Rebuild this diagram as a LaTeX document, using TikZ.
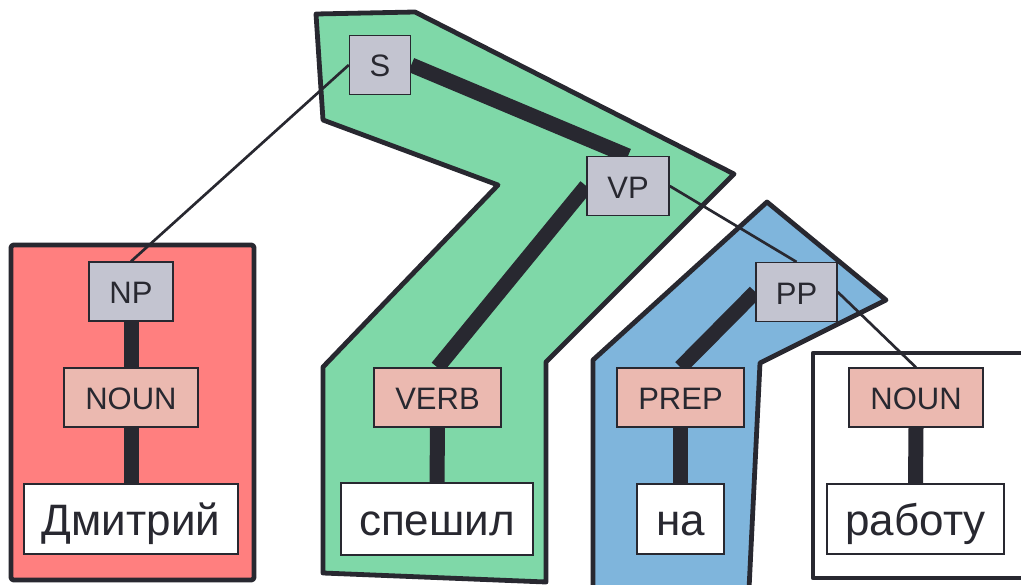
\documentclass[tikz,border=0pt]{standalone}
\usepackage{fontspec}
\setmainfont{Liberation Sans}
\pgfdeclarelayer{polys}
\pgfdeclarelayer{edges}
\pgfsetlayers{polys,edges,main}
\definecolor{ink}{HTML}{282830}
\definecolor{greenfill}{HTML}{7FD8A8}
\definecolor{redfill}{HTML}{FF7F7F}
\definecolor{bluefill}{HTML}{7FB5DC}
\definecolor{phrasefill}{HTML}{C3C4D0}
\definecolor{posfill}{HTML}{EBB9B0}
\tikzset{
  lbl/.style={draw=ink, line width=1.1pt, text=ink, inner sep=0pt,
    minimum height=44pt, text height=18pt, text depth=0pt,
    font=\fontsize{23.25}{26}\selectfont},
  phr/.style={lbl, fill=phrasefill},
  posbox/.style={lbl, fill=posfill},
  word/.style={draw=ink, line width=1.1pt, text=ink, fill=white, inner sep=0pt,
    minimum height=52.5pt, text height=26pt, text depth=2pt,
    font=\fontsize{33}{36}\selectfont},
  thickedge/.style={draw=ink, line width=11.25pt},
  thinedge/.style={draw=ink, line width=2pt},
  poly/.style={draw=ink, line width=3.6pt, line join=round}
}
\begin{document}
\begin{tikzpicture}[x=0.75pt,y=-0.75pt]
\useasboundingbox (0,0) rectangle (1021,585);
% nodes
\node[phr, minimum width=45.75pt] (S) at (380,65) {S};
\node[phr, minimum width=61.5pt] (VP) at (628,186) {VP};
\node[phr, minimum width=63pt] (NP) at (131,291.5) {NP};
\node[phr, minimum width=60.75pt] (PP) at (796.5,292) {PP};
\node[posbox, minimum width=100.5pt] (NOUN1) at (131,397.5) {NOUN};
\node[posbox, minimum width=95.25pt] (VERB) at (437.5,397.5) {VERB};
\node[posbox, minimum width=95.25pt] (PREP) at (680.5,397.5) {PREP};
\node[posbox, minimum width=100.5pt] (NOUN2) at (916,397.5) {NOUN};
\node[word, minimum width=160.5pt] (W1) at (131,519) {Дмитрий};
\node[word, minimum width=144pt, minimum height=54pt] (W2) at (437,519) {спешил};
\node[word, minimum width=65.25pt] (W3) at (680.5,519) {на};
\node[word, minimum width=132.75pt] (W4) at (915.5,519) {работу};
% connectors
\begin{pgfonlayer}{edges}
\draw[thinedge] (S.west) -- (NP.north);
\draw[thickedge] (S.east) -- (VP.north);
\draw[thickedge] (VP.west) -- (VERB.north);
\draw[thinedge] (VP.east) -- (PP.north);
\draw[thickedge] (PP.west) -- (PREP.north);
\draw[thinedge] (PP.east) -- (NOUN2.north);
\draw[thickedge] (NP.south) -- (NOUN1.north);
\draw[thickedge] (NOUN1.south) -- (W1.north);
\draw[thickedge] (VERB.south) -- (W2.north);
\draw[thickedge] (PREP.south) -- (W3.north);
\draw[thickedge] (NOUN2.south) -- (W4.north);
\end{pgfonlayer}
% groups
\begin{pgfonlayer}{polys}
\clip (0,0) rectangle (1021,585);
\draw[poly, fill=greenfill] (316,14) -- (415,12) -- (734,174) -- (546,362)
  -- (546,582) -- (323,573) -- (323,367) -- (498,185) -- (323,120) -- cycle;
\draw[poly, fill=bluefill] (767,202) -- (886,300) -- (760,363) -- (748,610)
  -- (593,610) -- (593,360) -- cycle;
\draw[poly, fill=redfill, rounded corners=2pt] (11,245) rectangle (254,580);
\draw[poly, fill=white] (813,353) rectangle (1060,578);
\end{pgfonlayer}
\end{tikzpicture}
\end{document}
